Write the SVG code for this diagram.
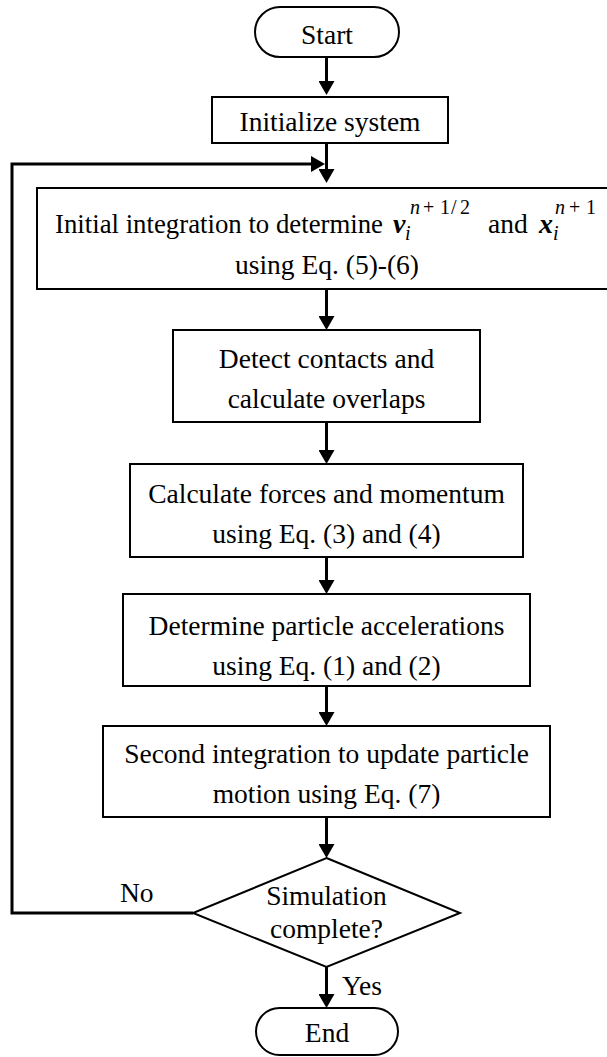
<svg xmlns="http://www.w3.org/2000/svg" width="607" height="1057" viewBox="0 0 607 1057">
  <style>
    .box { fill: #fff; stroke: #000; stroke-width: 2; }
    .conn { fill: none; stroke: #000; stroke-width: 3; }
    text { font-family: "Liberation Serif", "Times New Roman", serif; font-size: 27.5px; fill: #000; }
    .c { text-anchor: middle; }
    .bi { font-weight: bold; font-style: italic; font-size: 28px; }
    .sm { font-size: 20px; }
    .it { font-style: italic; }
  </style>
  <defs>
    <marker id="arrow" markerUnits="userSpaceOnUse" viewBox="0 0 14 16" refX="4" refY="8" markerWidth="14" markerHeight="16" orient="auto">
      <path d="M0,0 L14,8 L0,16 z" fill="#000"/>
    </marker>
  </defs>

  <!-- connectors -->
  <g id="connectors">
    <line class="conn" x1="326.5" y1="57" x2="326.5" y2="85" marker-end="url(#arrow)"/>
    <line class="conn" x1="326.5" y1="143" x2="326.5" y2="173" marker-end="url(#arrow)"/>
    <line class="conn" x1="326.5" y1="289" x2="326.5" y2="320" marker-end="url(#arrow)"/>
    <line class="conn" x1="326.5" y1="422" x2="326.5" y2="454" marker-end="url(#arrow)"/>
    <line class="conn" x1="326.5" y1="557" x2="326.5" y2="584" marker-end="url(#arrow)"/>
    <line class="conn" x1="326.5" y1="686" x2="326.5" y2="716" marker-end="url(#arrow)"/>
    <line class="conn" x1="326.5" y1="817" x2="326.5" y2="848" marker-end="url(#arrow)"/>
    <line class="conn" x1="326.5" y1="967" x2="326.5" y2="998" marker-end="url(#arrow)"/>
    <!-- "No" loop back to the first integration step -->
    <polyline class="conn" points="193,913 12,913 12,164 315,164" marker-end="url(#arrow)"/>
    <text x="120" y="902">No</text>
    <text x="342" y="995">Yes</text>
  </g>

  <g id="start">
    <rect class="box" x="255" y="7" width="144" height="50" rx="25" ry="25"/>
    <text class="c" x="327" y="44">Start</text>
  </g>

  <g id="init">
    <rect class="box" x="212" y="97" width="236" height="46"/>
    <text class="c" x="330" y="131">Initialize system</text>
  </g>

  <g id="first-integration">
    <rect class="box" x="37" y="188" width="590" height="101"/>
    <text x="55" y="233" textLength="328" lengthAdjust="spacingAndGlyphs">Initial integration to determine</text>
    <text class="bi" x="393" y="233">v</text>
    <text class="sm it" x="405" y="240">i</text>
    <text class="sm" y="214"><tspan class="it" x="410">n</tspan><tspan x="423">+</tspan><tspan x="440">1</tspan><tspan x="451">/</tspan><tspan x="460">2</tspan></text>
    <text x="488" y="233">and</text>
    <text class="bi" x="539" y="233">x</text>
    <text class="sm it" x="553" y="240">i</text>
    <text class="sm" y="214"><tspan class="it" x="555">n</tspan><tspan x="569">+</tspan><tspan x="586">1</tspan></text>
    <text class="c" x="327" y="274">using Eq. (5)-(6)</text>
  </g>

  <g id="detect">
    <rect class="box" x="173" y="330" width="307" height="92"/>
    <text class="c" x="326.5" y="368">Detect contacts and</text>
    <text class="c" x="326.5" y="408">calculate overlaps</text>
  </g>

  <g id="forces">
    <rect class="box" x="130" y="464" width="393" height="93"/>
    <text class="c" x="326.5" y="503">Calculate forces and momentum</text>
    <text class="c" x="326.5" y="543">using Eq. (3) and (4)</text>
  </g>

  <g id="accelerations">
    <rect class="box" x="123" y="594" width="407" height="92"/>
    <text class="c" x="326.5" y="635">Determine particle accelerations</text>
    <text class="c" x="326.5" y="675">using Eq. (1) and (2)</text>
  </g>

  <g id="second-integration">
    <rect class="box" x="103" y="726" width="447" height="91"/>
    <text class="c" x="326.5" y="763">Second integration to update particle</text>
    <text class="c" x="326.5" y="803">motion using Eq. (7)</text>
  </g>

  <g id="decision">
    <polygon class="box" points="326.5,858 460,913 326.5,967 193,913"/>
    <text class="c" x="326.5" y="905">Simulation</text>
    <text class="c" x="326.5" y="938">complete?</text>
  </g>

  <g id="end">
    <rect class="box" x="256" y="1008" width="142" height="47" rx="23.5" ry="23.5"/>
    <text class="c" x="327" y="1042">End</text>
  </g>
</svg>
